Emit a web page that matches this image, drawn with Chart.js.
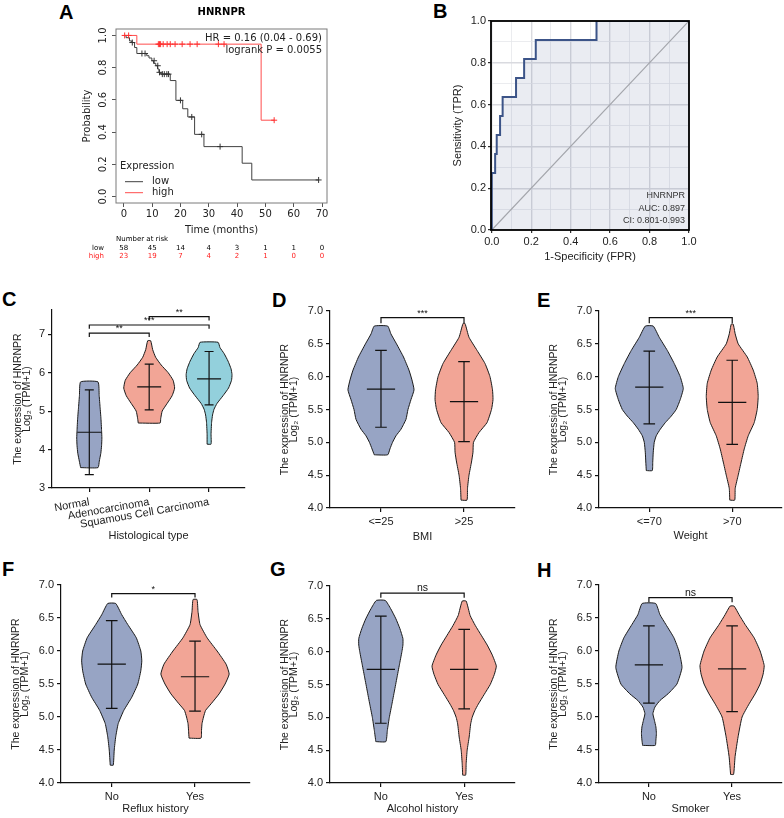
<!DOCTYPE html>
<html>
<head>
<meta charset="utf-8">
<script src="https://cdn.jsdelivr.net/npm/chart.js@4.4.1/dist/chart.umd.min.js"></script>
<style>
  html, body { margin: 0; padding: 0; background: #fff; }
  body { position: relative; width: 784px; height: 818px; overflow: hidden; }
  canvas { position: absolute; }
  .tag { position: absolute; font: bold 20px "Liberation Sans", Arial, sans-serif; line-height: 1; color: #000; }
</style>
</head>
<body>
<div class="tag" style="left:59px;top:2px">A</div>
<div class="tag" style="left:433px;top:1px">B</div>
<div class="tag" style="left:2px;top:289px">C</div>
<div class="tag" style="left:272px;top:290px">D</div>
<div class="tag" style="left:537px;top:290px">E</div>
<div class="tag" style="left:2px;top:559px">F</div>
<div class="tag" style="left:270px;top:559px">G</div>
<div class="tag" style="left:537px;top:560px">H</div>

<canvas id="pA"></canvas>
<canvas id="pB"></canvas>
<canvas id="pC"></canvas>
<canvas id="pD"></canvas>
<canvas id="pE"></canvas>
<canvas id="pF"></canvas>
<canvas id="pG"></canvas>
<canvas id="pH"></canvas>

<script>
// ---------- A: Kaplan-Meier, HNRNPR ----------
const kmTicksX = [0, 10, 20, 30, 40, 50, 60, 70];
const kmTicksY = [0, 0.2, 0.4, 0.6, 0.8, 1.0];
const lowTime = [0, 0.8, 2.0, 2.8, 3.8, 4.6, 8.1, 8.9, 9.9, 10.5, 11.3, 11.9, 12.4, 12.8, 13.2, 16.4, 18.4, 20.8, 22.6, 25.0, 28.3, 41.8, 45.2, 68.8];
const lowSurv = [1, 0.986, 0.966, 0.956, 0.925, 0.888, 0.874, 0.86, 0.843, 0.827, 0.812, 0.792, 0.771, 0.765, 0.76, 0.72, 0.597, 0.545, 0.494, 0.386, 0.31, 0.207, 0.103, 0.103];
const lowCensTime = [3.0, 6.4, 7.5, 10.7, 12.0, 12.6, 13.6, 14.3, 15.2, 15.8, 20.0, 24.0, 27.5, 34.0, 68.8];
const lowCensSurv = [0.956, 0.888, 0.888, 0.843, 0.812, 0.771, 0.76, 0.76, 0.76, 0.76, 0.597, 0.494, 0.386, 0.31, 0.103];
const highTime = [0, 4.6, 48.5, 53.1];
const highSurv = [1, 0.946, 0.474, 0.474];
const highCensTime = [0.3, 1.7, 12.2, 12.6, 13.0, 13.9, 15.3, 16.4, 18.1, 20.6, 23.4, 25.9, 33.4, 35.4, 53.1];
const highCensSurv = [1, 1, 0.946, 0.946, 0.946, 0.946, 0.946, 0.946, 0.946, 0.946, 0.946, 0.946, 0.946, 0.946, 0.474];
const riskTimes = [0, 10, 20, 30, 40, 50, 60, 70];
const riskLow = [58, 45, 14, 4, 3, 1, 1, 0];
const riskHigh = [23, 19, 7, 4, 2, 1, 0, 0];

// ---------- B: ROC ----------
const rocFpr = [0, 0, 0.017, 0.017, 0.025, 0.025, 0.042, 0.042, 0.055, 0.055, 0.123, 0.123, 0.164, 0.164, 0.223, 0.223, 0.531, 0.531, 1];
const rocTpr = [0, 0.273, 0.273, 0.364, 0.364, 0.455, 0.455, 0.545, 0.545, 0.636, 0.636, 0.727, 0.727, 0.818, 0.818, 0.909, 0.909, 1, 1];
const rocTicks = [0, 0.1, 0.2, 0.3, 0.4, 0.5, 0.6, 0.7, 0.8, 0.9, 1.0];

// ---------- C: histological type ----------
const histCats = ['Normal', 'Adenocarcinoma', 'Squamous Cell Carcinoma'];
const normalLevels = [3.53, 3.7, 3.9, 4.1, 4.3, 4.5, 4.8, 5.1, 5.4, 5.76];
const normalWidths = [0.145, 0.167, 0.192, 0.205, 0.21, 0.205, 0.195, 0.18, 0.165, 0.145];
const normalStats = [3.35, 4.45, 5.55];
const adenoLevels = [4.69, 4.8, 5.0, 5.2, 5.4, 5.6, 5.8, 6.0, 6.2, 6.4, 6.6, 6.83];
const adenoWidths = [0.183, 0.192, 0.217, 0.3, 0.383, 0.425, 0.4, 0.317, 0.2, 0.108, 0.058, 0.025];
const adenoStats = [5.03, 5.63, 6.22];
const sccLevels = [4.14, 4.4, 4.7, 4.9, 5.05, 5.2, 5.4, 5.6, 5.8, 5.95, 6.1, 6.3, 6.5, 6.65, 6.79];
const sccWidths = [0.033, 0.033, 0.042, 0.058, 0.083, 0.133, 0.233, 0.325, 0.375, 0.383, 0.367, 0.317, 0.25, 0.183, 0.15];
const sccStats = [5.16, 5.84, 6.55];
const histBrackets = [[0, 1, 7.03, '**'], [0, 2, 7.24, '***'], [1, 2, 7.46, '**']];

// ---------- D: BMI ----------
const bmiCats = ['<=25', '>25'];
const bmiLowLevels = [4.81, 4.9, 5.0, 5.1, 5.2, 5.35, 5.5, 5.65, 5.8, 5.95, 6.1, 6.3, 6.5, 6.65, 6.77];
const bmiLowWidths = [0.081, 0.108, 0.139, 0.181, 0.241, 0.301, 0.325, 0.361, 0.398, 0.373, 0.337, 0.271, 0.187, 0.12, 0.081];
const bmiLowStats = [5.23, 5.81, 6.40];
const bmiHighLevels = [4.12, 4.3, 4.5, 4.7, 4.85, 5.0, 5.15, 5.3, 5.5, 5.65, 5.8, 6.0, 6.2, 6.4, 6.6, 6.81];
const bmiHighWidths = [0.036, 0.042, 0.06, 0.09, 0.108, 0.114, 0.181, 0.277, 0.331, 0.349, 0.343, 0.313, 0.253, 0.157, 0.06, 0.012];
const bmiHighStats = [5.01, 5.62, 6.23];
const bmiBrackets = [[0, 1, 6.9, '***']];

// ---------- E: weight ----------
const weightCats = ['<=70', '>70'];
const weightLowLevels = [4.57, 4.7, 4.85, 5.0, 5.1, 5.2, 5.3, 5.4, 5.5, 5.65, 5.82, 6.0, 6.2, 6.4, 6.6, 6.77];
const weightLowWidths = [0.036, 0.042, 0.048, 0.06, 0.084, 0.133, 0.193, 0.265, 0.325, 0.373, 0.41, 0.373, 0.301, 0.217, 0.12, 0.048];
const weightLowStats = [5.28, 5.84, 6.39];
const weightHighLevels = [4.12, 4.3, 4.5, 4.7, 4.9, 5.1, 5.3, 5.5, 5.7, 5.9, 6.1, 6.3, 6.5, 6.65, 6.8];
const weightHighWidths = [0.03, 0.036, 0.072, 0.108, 0.145, 0.193, 0.265, 0.301, 0.313, 0.301, 0.253, 0.181, 0.072, 0.036, 0.012];
const weightHighStats = [4.97, 5.61, 6.25];
const weightBrackets = [[0, 1, 6.9, '***']];

// ---------- F/G/H: No / Yes ----------
const yesNoCats = ['No', 'Yes'];
const refluxNoLevels = [4.27, 4.5, 4.7, 4.9, 5.1, 5.3, 5.5, 5.7, 5.85, 6.0, 6.2, 6.4, 6.55, 6.72];
const refluxNoWidths = [0.018, 0.03, 0.048, 0.078, 0.145, 0.241, 0.313, 0.349, 0.361, 0.349, 0.295, 0.193, 0.12, 0.048];
const refluxNoStats = [5.13, 5.80, 6.46];
const refluxYesLevels = [4.68, 4.8, 4.9, 5.0, 5.1, 5.2, 5.35, 5.5, 5.65, 5.8, 6.0, 6.2, 6.4, 6.6, 6.78];
const refluxYesWidths = [0.072, 0.078, 0.084, 0.102, 0.127, 0.193, 0.289, 0.361, 0.41, 0.373, 0.265, 0.145, 0.06, 0.036, 0.024];
const refluxYesStats = [5.09, 5.61, 6.15];
const refluxBrackets = [[0, 1, 6.87, '*']];

const alcoholNoLevels = [4.63, 4.8, 5.0, 5.2, 5.4, 5.6, 5.8, 6.0, 6.1, 6.2, 6.35, 6.5, 6.65, 6.78];
const alcoholNoWidths = [0.06, 0.078, 0.102, 0.133, 0.163, 0.193, 0.223, 0.253, 0.265, 0.265, 0.229, 0.181, 0.12, 0.054];
const alcoholNoStats = [4.91, 5.73, 6.54];
const alcoholYesLevels = [4.12, 4.3, 4.5, 4.7, 4.9, 5.0, 5.1, 5.2, 5.35, 5.5, 5.65, 5.78, 5.95, 6.1, 6.25, 6.4, 6.55, 6.77];
const alcoholYesWidths = [0.018, 0.024, 0.036, 0.06, 0.078, 0.096, 0.127, 0.169, 0.241, 0.313, 0.361, 0.386, 0.337, 0.277, 0.205, 0.133, 0.072, 0.024];
const alcoholYesStats = [5.13, 5.73, 6.34];
const alcoholBrackets = [[0, 1, 6.89, 'ns']];

const smokerNoLevels = [4.57, 4.65, 4.75, 4.85, 4.95, 5.05, 5.15, 5.25, 5.35, 5.5, 5.75, 6.0, 6.2, 6.4, 6.55, 6.72];
const smokerNoWidths = [0.076, 0.084, 0.09, 0.084, 0.066, 0.048, 0.072, 0.133, 0.229, 0.337, 0.398, 0.361, 0.301, 0.205, 0.133, 0.081];
const smokerNoStats = [5.21, 5.79, 6.38];
const smokerYesLevels = [4.13, 4.4, 4.7, 5.0, 5.2, 5.35, 5.5, 5.65, 5.78, 6.0, 6.2, 6.4, 6.55, 6.68];
const smokerYesWidths = [0.018, 0.036, 0.072, 0.12, 0.205, 0.277, 0.337, 0.373, 0.386, 0.337, 0.265, 0.157, 0.084, 0.024];
const smokerYesStats = [5.08, 5.73, 6.38];
const smokerBrackets = [[0, 1, 6.81, 'ns']];

const exprTicks = [4.0, 4.5, 5.0, 5.5, 6.0, 6.5, 7.0];
const histTicks = [3, 4, 5, 6, 7];

// ---------- common setup ----------
const ARIAL = '"Liberation Sans", Arial, sans-serif';
const DEJAVU = '"DejaVu Sans", sans-serif';
Chart.defaults.font.family = ARIAL;
Chart.defaults.animation = false;
Chart.defaults.events = [];
Chart.defaults.plugins.legend.display = false;
Chart.defaults.plugins.tooltip.enabled = false;

const blue = '#97a4c4', salmon = '#f2a596', teal = '#93d0dc';

function mount(id, box) {
  const c = document.getElementById(id);
  c.width = box.w; c.height = box.h;
  c.style.left = box.x + 'px'; c.style.top = box.y + 'px';
  return c;
}
const toXY = (xs, ys) => xs.map((x, i) => ({x, y: ys[i]}));
const fixedTicks = vals => s => { s.ticks = vals.map(v => ({value: v})); };

// ---------- A ----------
(function () {
  const box = {x: 81, y: 0, w: 259, h: 265, m: {l: 35, t: 29, r: 13, b: 62}};
  const kmText = {
    id: 'kmText',
    afterDraw(chart) {
      const {ctx, chartArea: a, scales: {x}} = chart;
      ctx.save();
      ctx.strokeStyle = '#7a7a7a'; ctx.lineWidth = 1;
      ctx.strokeRect(a.left, a.top, a.right - a.left, a.bottom - a.top);
      ctx.fillStyle = '#000'; ctx.textBaseline = 'middle';
      ctx.font = 'bold 10px ' + DEJAVU; ctx.textAlign = 'center';
      ctx.fillText('HNRNPR', (a.left + a.right) / 2, 12);
      ctx.font = '10px ' + DEJAVU; ctx.textAlign = 'right'; ctx.fillStyle = '#222';
      ctx.fillText('HR = 0.16 (0.04 - 0.69)', a.right - 5, a.top + 9.5);
      ctx.fillText('logrank P = 0.0055', a.right - 5, a.top + 21.7);
      // legend
      ctx.textAlign = 'left';
      ctx.fillText('Expression', a.left + 4, a.bottom - 36.3);
      ctx.fillText('low', a.left + 36, a.bottom - 21.3);
      ctx.fillText('high', a.left + 36, a.bottom - 10.3);
      ctx.lineWidth = 1;
      ctx.strokeStyle = '#404040';
      ctx.beginPath(); ctx.moveTo(a.left + 9, a.bottom - 21.3); ctx.lineTo(a.left + 27, a.bottom - 21.3); ctx.stroke();
      ctx.strokeStyle = '#ff4d4d';
      ctx.beginPath(); ctx.moveTo(a.left + 9, a.bottom - 10.3); ctx.lineTo(a.left + 27, a.bottom - 10.3); ctx.stroke();
      // number at risk
      ctx.font = '7px ' + DEJAVU; ctx.fillStyle = '#000';
      ctx.fillText('Number at risk', a.left, a.bottom + 36.3);
      ctx.textAlign = 'right';
      ctx.fillText('low', a.left - 12, a.bottom + 45);
      ctx.fillStyle = '#ff2020';
      ctx.fillText('high', a.left - 12, a.bottom + 53);
      ctx.textAlign = 'center';
      riskTimes.forEach((t, i) => {
        const px = x.getPixelForValue(t);
        ctx.fillStyle = '#000'; ctx.fillText(String(riskLow[i]), px, a.bottom + 45);
        ctx.fillStyle = '#ff2020'; ctx.fillText(String(riskHigh[i]), px, a.bottom + 53);
      });
      ctx.restore();
    }
  };
  new Chart(mount('pA', box), {
    type: 'line',
    data: {
      datasets: [
        {data: toXY(lowCensTime, lowCensSurv), showLine: false, pointStyle: 'cross', pointRadius: 3, pointBorderWidth: 1, pointBorderColor: '#333'},
        {data: toXY(highCensTime, highCensSurv), showLine: false, pointStyle: 'cross', pointRadius: 3, pointBorderWidth: 1, pointBorderColor: '#ff3030'},
        {data: toXY(lowTime, lowSurv), stepped: true, borderColor: '#404040', borderWidth: 1, pointRadius: 0, fill: false},
        {data: toXY(highTime, highSurv), stepped: true, borderColor: '#ff4d4d', borderWidth: 1, pointRadius: 0, fill: false}
      ]
    },
    options: {
      responsive: false,
      layout: {padding: {left: 0, top: box.m.t, right: box.m.r, bottom: 0}},
      scales: {
        x: {
          type: 'linear', min: -2.76, max: 71.76,
          afterBuildTicks: fixedTicks(kmTicksX),
          afterFit: s => { s.height = box.m.b; },
          ticks: {font: {family: DEJAVU, size: 10}, color: '#222', padding: 1.5, maxRotation: 0},
          grid: {drawOnChartArea: false, tickLength: 4, color: '#555'},
          border: {display: false},
          title: {display: true, text: 'Time (months)', font: {family: DEJAVU, size: 10}, color: '#222', padding: {top: 0, bottom: 29}}
        },
        y: {
          type: 'linear', min: -0.04, max: 1.04,
          afterBuildTicks: fixedTicks(kmTicksY),
          afterFit: s => { s.width = box.m.l; },
          ticks: {font: {family: DEJAVU, size: 10}, color: '#222', padding: 0.5, minRotation: 90, maxRotation: 90, crossAlign: 'center', callback: v => v.toFixed(1)},
          grid: {drawOnChartArea: false, tickLength: 4, color: '#555'},
          border: {display: false},
          title: {display: true, text: 'Probability', font: {family: DEJAVU, size: 10}, color: '#222', padding: {top: 0, bottom: 0}}
        }
      }
    },
    plugins: [kmText]
  });
})();

// ---------- B ----------
(function () {
  const box = {x: 451, y: 0, w: 249, h: 264, m: {l: 40, t: 21, r: 11, b: 34}};
  const major = v => Math.abs(v * 5 - Math.round(v * 5)) < 1e-6;
  const rocText = {
    id: 'rocText',
    afterDatasetsDraw(chart) {
      const {ctx, chartArea: a} = chart;
      ctx.save();
      ctx.strokeStyle = '#000'; ctx.lineWidth = 1.8;
      ctx.strokeRect(a.left, a.top, a.right - a.left, a.bottom - a.top);
      ctx.font = '9px ' + ARIAL; ctx.fillStyle = '#333'; ctx.textAlign = 'right'; ctx.textBaseline = 'middle';
      ctx.fillText('HNRNPR', a.right - 4, a.bottom - 34);
      ctx.fillText('AUC: 0.897', a.right - 4, a.bottom - 21);
      ctx.fillText('CI: 0.801-0.993', a.right - 4, a.bottom - 9);
      ctx.restore();
    }
  };
  const gridOpts = {
    color: c => major(c.tick.value) ? '#d9dadf' : '#e6e7eb',
    lineWidth: c => major(c.tick.value) ? 1.4 : 0.8,
    tickColor: c => major(c.tick.value) ? '#000' : 'rgba(0,0,0,0)',
    tickWidth: 1, tickLength: 3
  };
  new Chart(mount('pB', box), {
    type: 'line',
    data: {
      datasets: [
        {data: toXY(rocFpr, rocTpr), borderColor: '#3c5488', borderWidth: 2, pointRadius: 0, tension: 0,
         fill: 'start', backgroundColor: 'rgba(60,84,136,0.11)'},
        {data: [{x: 0, y: 0}, {x: 1, y: 1}], borderColor: '#b0b0b0', borderWidth: 1.2, pointRadius: 0, fill: false}
      ]
    },
    options: {
      responsive: false,
      layout: {padding: {left: 0, top: box.m.t, right: box.m.r, bottom: 0}},
      scales: {
        x: {
          type: 'linear', min: -0.004, max: 1,
          afterBuildTicks: fixedTicks(rocTicks),
          afterFit: s => { s.height = box.m.b; },
          ticks: {font: {size: 11}, color: '#222', padding: 2, maxRotation: 0, autoSkip: false, callback: v => major(v) ? v.toFixed(1) : ''},
          grid: gridOpts,
          border: {display: false},
          title: {display: true, text: '1-Specificity (FPR)', font: {size: 11}, color: '#222', padding: {top: 0, bottom: 0.1}}
        },
        y: {
          type: 'linear', min: 0, max: 1,
          afterBuildTicks: fixedTicks(rocTicks),
          afterFit: s => { s.width = box.m.l; },
          ticks: {font: {size: 11}, color: '#222', padding: 2, autoSkip: false, callback: v => major(v) ? v.toFixed(1) : ''},
          grid: gridOpts,
          border: {display: false},
          title: {display: true, text: 'Sensitivity (TPR)', font: {size: 11}, color: '#222', padding: {top: 0.7, bottom: 0}}
        }
      }
    },
    plugins: [rocText]
  });
})();

// ---------- violins C..H ----------
function violinOutline(center, levels, widths) {
  const left = levels.map((y, k) => ({x: center - widths[k], y}));
  const right = levels.map((y, k) => ({x: center + widths[k], y})).reverse();
  return left.concat(right, [left[0]]);
}
function whiskerPath(statsList, capW, medW) {
  const pts = [];
  statsList.forEach(([lo, med, hi], i) => {
    pts.push({x: i, y: lo}, {x: i, y: hi}, {x: i, y: null},
      {x: i - capW, y: lo}, {x: i + capW, y: lo}, {x: i, y: null},
      {x: i - capW, y: hi}, {x: i + capW, y: hi}, {x: i, y: null},
      {x: i - medW, y: med}, {x: i + medW, y: med}, {x: i, y: null});
  });
  return pts;
}
function bracketPath(list, drop) {
  const pts = [];
  list.forEach(([a, b, lvl]) => {
    pts.push({x: a, y: lvl - drop}, {x: a, y: lvl}, {x: b, y: lvl}, {x: b, y: lvl - drop}, {x: a, y: null});
  });
  return pts;
}

function violinChart(p) {
  const box = p.box;
  const lhY = 10.5 * 0.85;
  const datasets = [
    {data: bracketPath(p.brackets, p.drop), borderColor: '#111', borderWidth: 1.2, pointRadius: 0, tension: 0, fill: false, spanGaps: false},
    {data: whiskerPath(p.groups.map(g => g.stats), p.capW, p.medW), borderColor: '#111', borderWidth: 1.2, pointRadius: 0, tension: 0, fill: false, spanGaps: false}
  ];
  p.groups.forEach((g, i) => datasets.push({
    data: violinOutline(i, g.levels, g.widths), fill: 'shape', backgroundColor: p.colors[i],
    borderColor: '#1a1a1a', borderWidth: 1, tension: 0.15, pointRadius: 0
  }));
  const stars = {
    id: 'stars',
    afterDatasetsDraw(chart) {
      const {ctx, scales: {x, y}} = chart;
      ctx.save();
      ctx.fillStyle = '#111'; ctx.textAlign = 'center'; ctx.textBaseline = 'alphabetic';
      p.brackets.forEach(([a, b, lvl, label]) => {
        ctx.font = (label === 'ns' ? '10.5px ' : '9px ') + ARIAL;
        ctx.fillText(label, x.getPixelForValue((a + b) / 2), y.getPixelForValue(lvl) - 2);
      });
      ctx.restore();
    }
  };
  new Chart(mount(p.id, box), {
    type: 'line',
    data: {datasets},
    options: {
      responsive: false,
      layout: {padding: {left: 0, top: box.m.t, right: box.m.r, bottom: 0}},
      scales: {
        x: {
          type: 'linear', min: p.xMin, max: p.xMax,
          afterBuildTicks: fixedTicks(p.cats.map((_, i) => i)),
          afterFit: s => { s.height = box.m.b; },
          ticks: {font: {size: 11}, color: '#222', padding: 3.5, minRotation: p.rot, maxRotation: p.rot, autoSkip: false, callback: v => p.cats[v]},
          grid: {drawOnChartArea: false, tickLength: 4, color: '#111', lineWidth: 1.2},
          border: {display: true, color: '#111', width: 1.2},
          title: {display: true, text: p.xTitle, font: {size: 11}, color: '#222', padding: {top: 0, bottom: box.m.b - p.xTitleDist - 6.6}}
        },
        y: {
          type: 'linear', min: p.yMin, max: p.yMax,
          afterBuildTicks: fixedTicks(p.yTicks),
          afterFit: s => { s.width = box.m.l; },
          ticks: {font: {size: 11}, color: '#222', padding: 3, callback: v => v.toFixed(p.yDigits)},
          grid: {drawOnChartArea: false, tickLength: 4, color: '#111', lineWidth: 1.2},
          border: {display: true, color: '#111', width: 1.2},
          title: {display: true, text: ['The expression of HNRNPR', 'Log\u2082 (TPM+1)'], font: {size: 10.5, lineHeight: 0.85}, color: '#222',
                  padding: {top: box.m.l - p.titleGap - lhY / 2, bottom: 0}}
        }
      }
    },
    plugins: [stars]
  });
}

violinChart({
  id: 'pC', box: {x: 0, y: 290, w: 255, h: 255, m: {l: 52, t: 20, r: 10, b: 57}},
  cats: histCats, colors: [blue, salmon, teal],
  groups: [
    {levels: normalLevels, widths: normalWidths, stats: normalStats},
    {levels: adenoLevels, widths: adenoWidths, stats: adenoStats},
    {levels: sccLevels, widths: sccWidths, stats: sccStats}
  ],
  xMin: -0.623, xMax: 2.6, yMin: 3, yMax: 7.63, yTicks: histTicks, yDigits: 0,
  brackets: histBrackets, drop: 0.1, capW: 0.075, medW: 0.2, rot: 10,
  xTitle: 'Histological type', xTitleDist: 48, titleGap: 34
});
violinChart({
  id: 'pD', box: {x: 268, y: 291, w: 254, h: 254, m: {l: 62, t: 20, r: 7, b: 37}},
  cats: bmiCats, colors: [blue, salmon],
  groups: [
    {levels: bmiLowLevels, widths: bmiLowWidths, stats: bmiLowStats},
    {levels: bmiHighLevels, widths: bmiHighWidths, stats: bmiHighStats}
  ],
  xMin: -0.614, xMax: 1.614, yMin: 4, yMax: 7, yTicks: exprTicks, yDigits: 1,
  brackets: bmiBrackets, drop: 0.085, capW: 0.07, medW: 0.17, rot: 0,
  xTitle: 'BMI', xTitleDist: 28.7, titleGap: 45
});
violinChart({
  id: 'pE', box: {x: 537, y: 291, w: 247, h: 254, m: {l: 62, t: 20, r: 2, b: 37}},
  cats: weightCats, colors: [blue, salmon],
  groups: [
    {levels: weightLowLevels, widths: weightLowWidths, stats: weightLowStats},
    {levels: weightHighLevels, widths: weightHighWidths, stats: weightHighStats}
  ],
  xMin: -0.606, xMax: 1.6, yMin: 4, yMax: 7, yTicks: exprTicks, yDigits: 1,
  brackets: weightBrackets, drop: 0.085, capW: 0.07, medW: 0.17, rot: 0,
  xTitle: 'Weight', xTitleDist: 28.3, titleGap: 45
});
violinChart({
  id: 'pF', box: {x: 0, y: 565, w: 257, h: 253, m: {l: 61, t: 20, r: 7, b: 35}},
  cats: yesNoCats, colors: [blue, salmon],
  groups: [
    {levels: refluxNoLevels, widths: refluxNoWidths, stats: refluxNoStats},
    {levels: refluxYesLevels, widths: refluxYesWidths, stats: refluxYesStats}
  ],
  xMin: -0.609, xMax: 1.66, yMin: 4, yMax: 7, yTicks: exprTicks, yDigits: 1,
  brackets: refluxBrackets, drop: 0.06, capW: 0.07, medW: 0.17, rot: 0,
  xTitle: 'Reflux history', xTitleDist: 26.3, titleGap: 45
});
violinChart({
  id: 'pG', box: {x: 268, y: 566, w: 254, h: 252, m: {l: 62, t: 20, r: 7, b: 35}},
  cats: yesNoCats, colors: [blue, salmon],
  groups: [
    {levels: alcoholNoLevels, widths: alcoholNoWidths, stats: alcoholNoStats},
    {levels: alcoholYesLevels, widths: alcoholYesWidths, stats: alcoholYesStats}
  ],
  xMin: -0.61, xMax: 1.61, yMin: 4, yMax: 7, yTicks: exprTicks, yDigits: 1,
  brackets: alcoholBrackets, drop: 0.07, capW: 0.07, medW: 0.17, rot: 0,
  xTitle: 'Alcohol history', xTitleDist: 26.3, titleGap: 45
});
violinChart({
  id: 'pH', box: {x: 537, y: 565, w: 247, h: 253, m: {l: 62, t: 20, r: 2, b: 35}},
  cats: yesNoCats, colors: [blue, salmon],
  groups: [
    {levels: smokerNoLevels, widths: smokerNoWidths, stats: smokerNoStats},
    {levels: smokerYesLevels, widths: smokerYesWidths, stats: smokerYesStats}
  ],
  xMin: -0.6, xMax: 1.6, yMin: 4, yMax: 7, yTicks: exprTicks, yDigits: 1,
  brackets: smokerBrackets, drop: 0.07, capW: 0.07, medW: 0.17, rot: 0,
  xTitle: 'Smoker', xTitleDist: 26.3, titleGap: 45
});
</script>
</body>
</html>
